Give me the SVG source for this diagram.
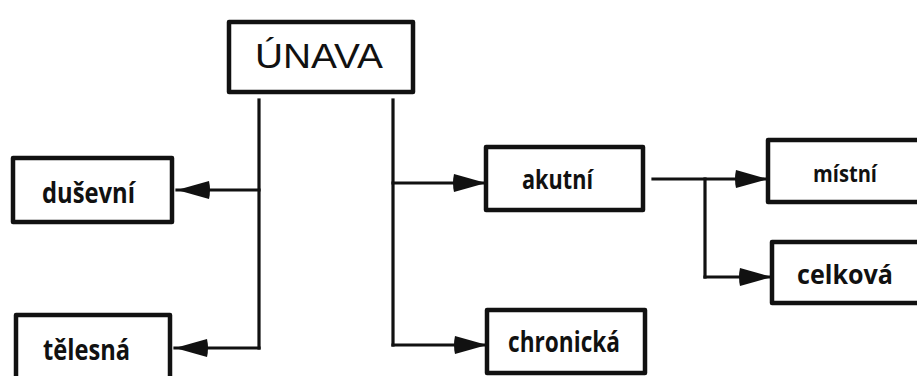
<svg xmlns="http://www.w3.org/2000/svg" width="917" height="376" viewBox="0 0 917 376">
  <style>
    .box { fill: #fff; stroke: #111; stroke-width: 4.5; stroke-linejoin: round; }
    .wire { fill: none; stroke: #111; stroke-width: 3.2; stroke-linecap: square; }
    .lbl { font-family: "Open Sans", "Liberation Sans", sans-serif; font-weight: 700; fill: #111; }
    .title { font-family: "Liberation Sans", "Open Sans", sans-serif; font-weight: 400; fill: #111; font-size: 35px; }
  </style>
  <defs>
    <marker id="head" markerUnits="userSpaceOnUse" markerWidth="36" markerHeight="22" refX="34" refY="11" orient="auto">
      <path d="M2,2 Q0,11 2,20 L34,11 Z" fill="#111"/>
    </marker>
  </defs>
  <rect width="917" height="376" fill="#fff"/>

  <!-- connectors -->
  <g id="connectors">
    <line class="wire" x1="259" y1="100" x2="259" y2="348"/>
    <line class="wire" x1="259" y1="190" x2="177" y2="190" marker-end="url(#head)"/>
    <line class="wire" x1="259" y1="348" x2="175" y2="348" marker-end="url(#head)"/>
    <line class="wire" x1="393" y1="100" x2="393" y2="345"/>
    <line class="wire" x1="393" y1="183" x2="486" y2="183" marker-end="url(#head)"/>
    <line class="wire" x1="393" y1="345" x2="487" y2="345" marker-end="url(#head)"/>
    <line class="wire" x1="653" y1="179" x2="768" y2="179" marker-end="url(#head)"/>
    <line class="wire" x1="705" y1="179" x2="705" y2="277"/>
    <line class="wire" x1="705" y1="277" x2="772" y2="277" marker-end="url(#head)"/>
  </g>

  <g id="unava">
    <rect class="box" x="229" y="22" width="184" height="70"/>
    <text class="title" x="255" y="68" textLength="128" lengthAdjust="spacingAndGlyphs">ÚNAVA</text>
  </g>
  <g id="dusevni">
    <rect class="box" x="13" y="158" width="159" height="64"/>
    <text class="lbl" x="42" y="203" font-size="28" textLength="93" lengthAdjust="spacingAndGlyphs">duševní</text>
  </g>
  <g id="telesna">
    <rect class="box" x="16" y="315" width="154" height="70"/>
    <text class="lbl" x="43" y="360" font-size="28" textLength="87" lengthAdjust="spacingAndGlyphs">tělesná</text>
  </g>
  <g id="akutni">
    <rect class="box" x="486" y="147" width="157" height="63"/>
    <text class="lbl" x="522" y="189" font-size="27" textLength="71" lengthAdjust="spacingAndGlyphs">akutní</text>
  </g>
  <g id="chronicka">
    <rect class="box" x="487" y="310" width="158" height="63"/>
    <text class="lbl" x="508" y="352" font-size="28" textLength="112" lengthAdjust="spacingAndGlyphs">chronická</text>
  </g>
  <g id="mistni">
    <rect class="box" x="768" y="140" width="160" height="62"/>
    <text class="lbl" x="813" y="182" font-size="23" textLength="64" lengthAdjust="spacingAndGlyphs">místní</text>
  </g>
  <g id="celkova">
    <rect class="box" x="772" y="242" width="160" height="61"/>
    <text class="lbl" x="797" y="284" font-size="27" textLength="96" lengthAdjust="spacingAndGlyphs">celková</text>
  </g>
</svg>
